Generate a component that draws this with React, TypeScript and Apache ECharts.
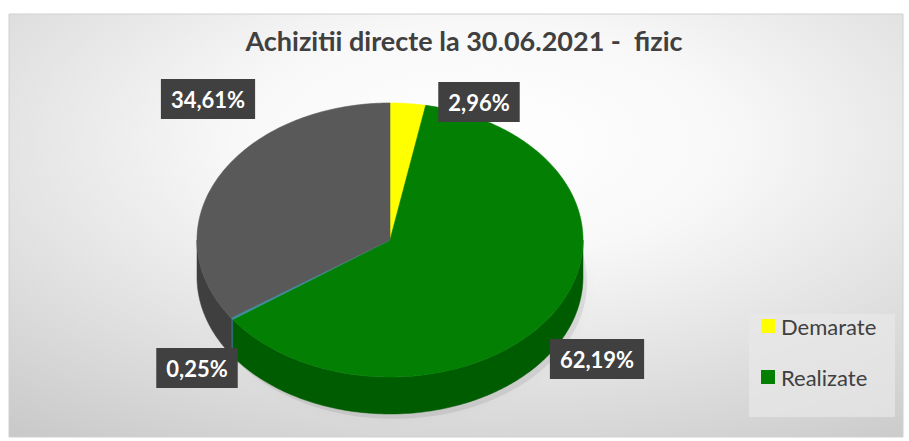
import React, { useEffect, useRef } from 'react';
import * as echarts from 'echarts';

// ---- data ----
const categories = ['Demarate', 'Realizate', 'Anulate', 'Nedemarate'];
const values = [2.96, 62.19, 0.25, 34.61];
const legendCategories = ['Demarate', 'Realizate'];
const chartTitle = 'Achizitii directe la 30.06.2021 -  fizic';

// ---- styles / layout ----
const topColors = ['#FFFF00', '#038003', '#3E8E9E', '#595959'];
const sideColors = ['#B8B800', '#005C00', '#2A6470', '#3F3F3F'];
const labelCenters: [number, number][] = [
  [479, 102],
  [597, 359],
  [197, 368],
  [208, 99],
];
const CX = 390;
const CY = 240;
const RX = 193;
const RY = 137;
const DEPTH = 37;

function pt(theta: number, dy = 0): number[] {
  return [CX + RX * Math.sin(theta), CY - RY * Math.cos(theta) + dy];
}

function arc(a0: number, a1: number, dy = 0): number[][] {
  const pts: number[][] = [];
  const n = Math.max(2, Math.ceil(((a1 - a0) * 180) / Math.PI));
  for (let i = 0; i <= n; i++) {
    pts.push(pt(a0 + ((a1 - a0) * i) / n, dy));
  }
  return pts;
}

function fmt(v: number): string {
  return v.toFixed(2).replace('.', ',') + '%';
}

export default function App() {
  const ref = useRef<HTMLDivElement>(null);

  useEffect(() => {
    if (!ref.current) return;
    const chart = echarts.init(ref.current, undefined, { renderer: 'svg' });
    const total = values.reduce((a, b) => a + b, 0);

    const renderItem = (params: any, api: any) => {
      const idx = params.dataIndex;
      let before = 0;
      for (let i = 0; i < idx; i++) before += values[i];
      const v = api.value(0);
      const a0 = (before / total) * Math.PI * 2;
      const a1 = ((before + v) / total) * Math.PI * 2;
      const children: any[] = [];
      // side wall (front half only)
      const lo = Math.max(a0, Math.PI / 2);
      const hi = Math.min(a1, (Math.PI * 3) / 2);
      if (lo < hi) {
        const topArc = arc(lo, hi);
        const botArc = arc(lo, hi, DEPTH).reverse();
        children.push({
          type: 'polygon',
          z2: 1,
          shape: { points: topArc.concat(botArc) },
          style: { fill: sideColors[idx], stroke: sideColors[idx], lineWidth: 0.5 },
        });
      }
      // top face
      children.push({
        type: 'polygon',
        z2: 5,
        shape: { points: [[CX, CY]].concat(arc(a0, a1)) },
        style: { fill: topColors[idx], stroke: topColors[idx], lineWidth: 0.6 },
      });
      // label
      const c = labelCenters[idx];
      children.push({
        type: 'text',
        z2: 100,
        x: c[0],
        y: c[1],
        style: {
          text: fmt(v),
          fill: '#ffffff',
          font: 'bold 22px Lato, "Open Sans", sans-serif',
          align: 'center',
          verticalAlign: 'middle',
          lineHeight: 24,
          backgroundColor: '#404040',
          padding: [8, 10, 8, 10],
          boxShadowColor: 'rgba(0,0,0,0.35)',
          boxShadowBlur: 3,
          boxShadowOffsetX: 5,
          boxShadowOffsetY: 6,
        },
      });
      return { type: 'group', children };
    };

    const legendGraphics: any[] = [
      {
        type: 'rect',
        z: 1,
        shape: { x: 749, y: 314, width: 146, height: 103 },
        style: { fill: 'rgba(232,232,232,0.7)' },
      },
    ];
    legendCategories.forEach((name, i) => {
      const ci = categories.indexOf(name);
      const yc = 326 + i * 51;
      legendGraphics.push({
        type: 'rect',
        z: 2,
        shape: { x: 761, y: yc - 7, width: 14, height: 14 },
        style: { fill: topColors[ci] },
      });
      legendGraphics.push({
        type: 'text',
        z: 2,
        x: 781,
        y: yc,
        style: {
          text: name,
          fill: '#404040',
          font: '22px Lato, "Open Sans", sans-serif',
          verticalAlign: 'middle',
        },
      });
    });

    chart.setOption({
      animation: false,
      graphic: [
        {
          type: 'rect',
          z: 0,
          shape: { x: 9, y: 14, width: 894, height: 423 },
          style: {
            fill: new echarts.graphic.RadialGradient(0.53, 0.3, 1.25, [
              { offset: 0, color: '#ffffff' },
              { offset: 0.22, color: '#f8f8f8' },
              { offset: 1, color: '#ababab' },
            ]),
            stroke: '#d0d0d0',
            lineWidth: 1,
          },
        },
        {
          type: 'text',
          z: 1,
          x: 464,
          y: 40,
          style: {
            text: chartTitle,
            fill: '#404040',
            font: 'bold 27px Lato, "Open Sans", sans-serif',
            align: 'center',
            verticalAlign: 'middle',
          },
        },
        {
          type: 'ellipse',
          z: 1,
          shape: { cx: CX + 4, cy: CY + DEPTH + 5, rx: RX, ry: RY },
          style: {
            fill: 'rgba(0,0,0,0.08)',
            shadowBlur: 14,
            shadowColor: 'rgba(0,0,0,0.22)',
          },
        },
        ...legendGraphics,
      ],
      series: [
        {
          type: 'custom',
          coordinateSystem: 'none',
          z: 3,
          renderItem,
          data: values.map((v, i) => ({ name: categories[i], value: [v] })),
        },
      ],
    });
    return () => chart.dispose();
  }, []);

  return (
    <div
      ref={ref}
      style={{ position: 'absolute', left: 0, top: 0, width: 909, height: 441 }}
    />
  );
}
